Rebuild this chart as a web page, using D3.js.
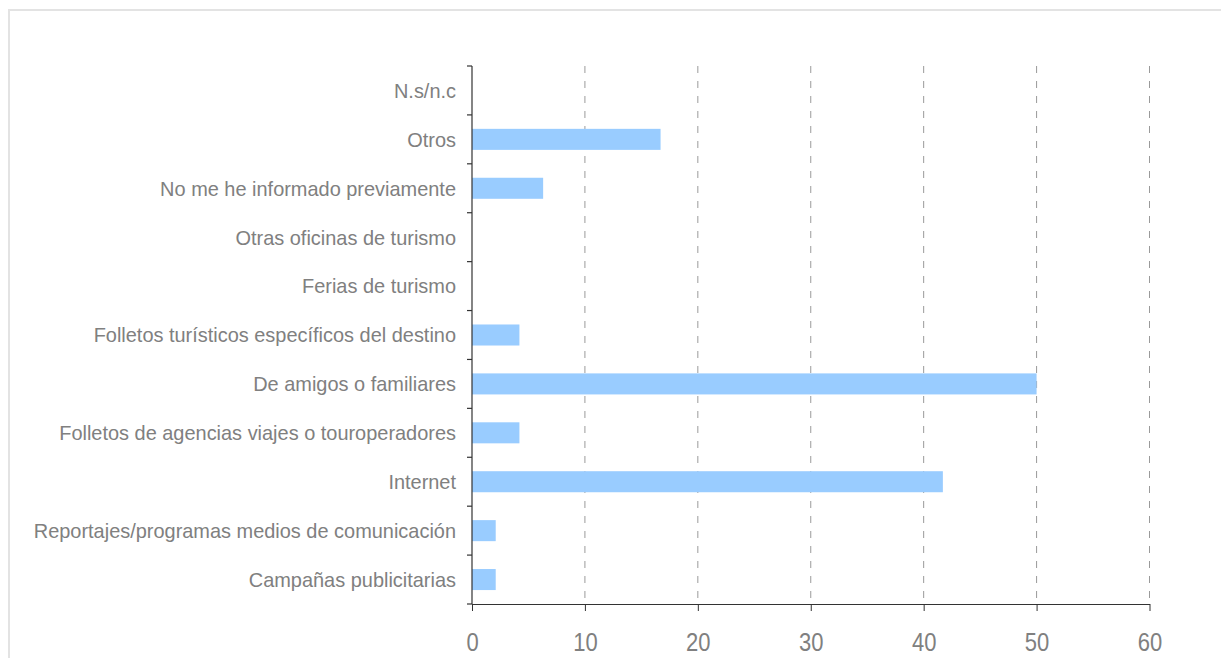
<!DOCTYPE html>
<html>
<head>
<meta charset="utf-8">
<script src="https://cdn.jsdelivr.net/npm/d3@7"></script>
<style>
  html, body { margin: 0; padding: 0; background: #fff; }
  svg { display: block; font-family: "Liberation Sans", Arial, sans-serif; }
</style>
</head>
<body>
<svg id="chart" width="1221" height="658"></svg>
<script>
// Categories listed from top to bottom as shown in the chart
const categories = [
  "N.s/n.c",
  "Otros",
  "No me he informado previamente",
  "Otras oficinas de turismo",
  "Ferias de turismo",
  "Folletos turísticos específicos del destino",
  "De amigos o familiares",
  "Folletos de agencias viajes o touroperadores",
  "Internet",
  "Reportajes/programas medios de comunicación",
  "Campañas publicitarias"
];
const values = [0, 16.7, 6.3, 0, 0, 4.2, 50, 4.2, 41.7, 2.1, 2.1];
const xTicks = [0, 10, 20, 30, 40, 50, 60];

(function () {
  const svg = d3.select("#chart");

  // outer frame
  svg.append("rect")
    .attr("x", 9).attr("y", 10)
    .attr("width", 1240).attr("height", 700)
    .attr("fill", "none")
    .attr("stroke", "#e3e3e3")
    .attr("stroke-width", 2);

  const pLeft = 472, pRight = 1149.5, pTop = 66, pBottom = 604;

  const x = d3.scaleLinear().domain([0, 60]).range([pLeft, pRight]);
  const y = d3.scaleBand().domain(categories).range([pTop, pBottom])
    .paddingInner(0.57).paddingOuter(0.285);

  // dashed grid lines
  svg.append("g").selectAll("line")
    .data(xTicks.filter(d => d > 0))
    .join("line")
    .attr("x1", d => x(d)).attr("x2", d => x(d))
    .attr("y1", pTop).attr("y2", pBottom)
    .attr("stroke", "#9a9a9a")
    .attr("stroke-width", 1)
    .attr("stroke-dasharray", "7,8");

  // bars
  svg.append("g").selectAll("rect")
    .data(categories.map((c, i) => ({c, v: values[i]})))
    .join("rect")
    .attr("x", x(0))
    .attr("y", d => y(d.c))
    .attr("width", d => x(d.v) - x(0))
    .attr("height", y.bandwidth())
    .attr("fill", "#99ccff");

  // x axis
  const xAxis = svg.append("g")
    .attr("transform", `translate(0,${pBottom})`)
    .call(d3.axisBottom(x).tickValues(xTicks).tickSize(7).tickPadding(22).tickSizeOuter(0));
  xAxis.select(".domain").attr("stroke", "#333");
  xAxis.selectAll(".tick line").attr("stroke", "#333");
  xAxis.selectAll(".tick text")
    .attr("fill", "#808080")
    .style("font-size", "25px")
    .style("font-family", "'Liberation Sans', Arial, sans-serif")
    .attr("transform", "scale(0.88,1)");

  // y axis line and band boundary ticks
  const n = categories.length;
  const boundaries = d3.range(n + 1).map(i => pTop + i * (pBottom - pTop) / n);
  svg.append("line")
    .attr("x1", pLeft).attr("x2", pLeft)
    .attr("y1", pTop).attr("y2", pBottom)
    .attr("stroke", "#333").attr("stroke-width", 1.2);
  svg.append("g").selectAll("line")
    .data(boundaries)
    .join("line")
    .attr("x1", pLeft - 5).attr("x2", pLeft)
    .attr("y1", d => d).attr("y2", d => d)
    .attr("stroke", "#333").attr("stroke-width", 1.2);

  // category labels
  svg.append("g").selectAll("g")
    .data(categories)
    .join("g")
    .attr("transform", d => `translate(456,${y(d) + y.bandwidth() / 2})`)
    .append("text")
    .attr("text-anchor", "end")
    .attr("dy", "0.35em")
    .attr("fill", "#808080")
    .style("font-size", "21px")
    .attr("transform", "scale(0.95,1)")
    .text(d => d);
})();
</script>
</body>
</html>
